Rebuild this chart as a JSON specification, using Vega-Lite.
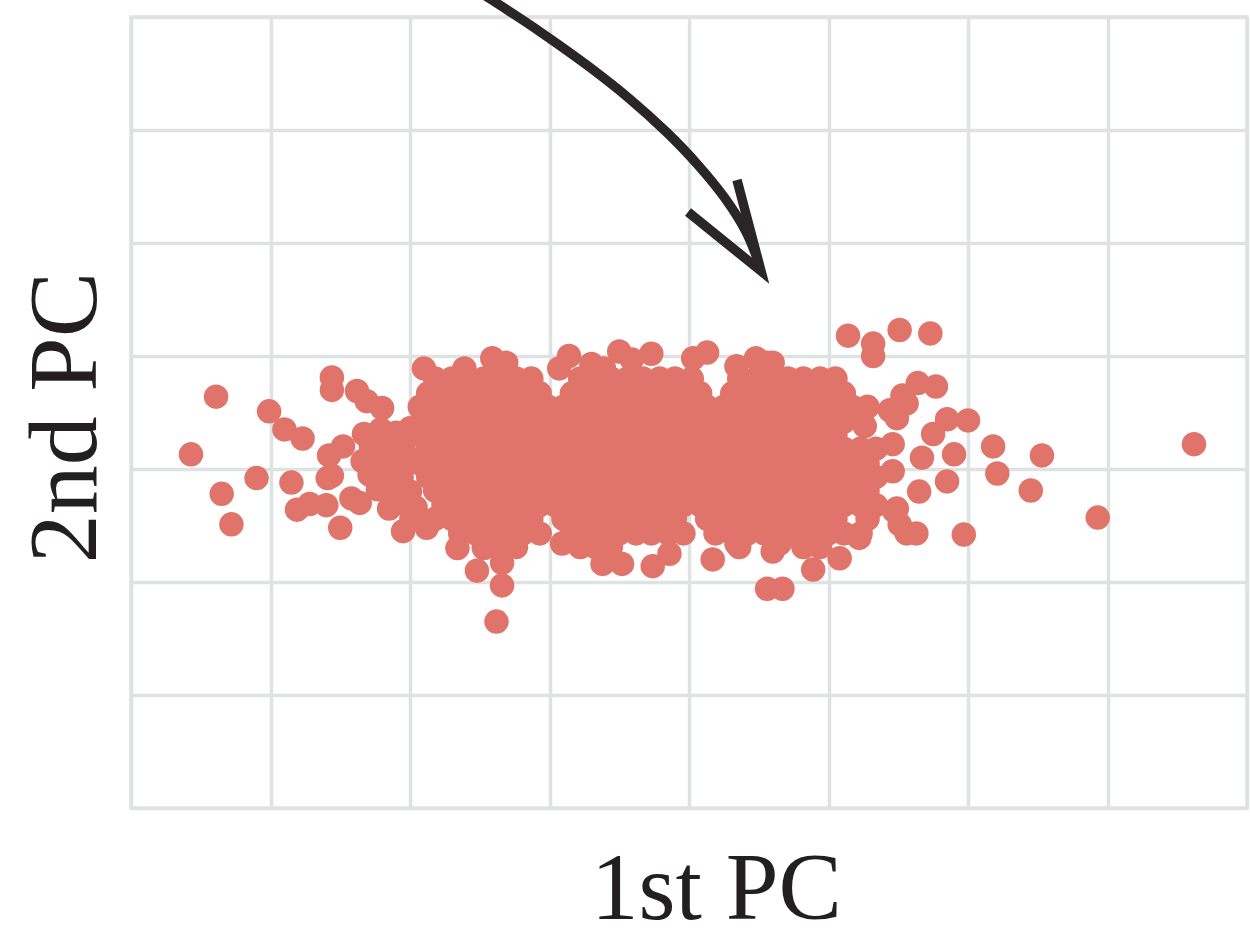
{
"$schema": "https://vega.github.io/schema/vega-lite/v6.json",
"width": 1116, "height": 791,
"autosize": {"type": "none"},
"padding": {"left": 131, "top": 17, "right": 3, "bottom": 123},
"background": "white",
"config": {
 "view": {"stroke": "#dfe2e3", "strokeWidth": 3.5},
 "axis": {"grid": true, "gridColor": "#dfe2e3", "gridWidth": 3.5, "labels": false, "ticks": false, "domain": false,
  "titleFont": "Liberation Serif", "titleFontSize": 95, "titleFontWeight": "normal", "titleColor": "#231f20"}
},
"datasets": {
"pts": [
{"x":-1.82,"y":0.8},{"x":-1.7,"y":0.8},{"x":-1.59,"y":0.8},{"x":-1.47,"y":0.8},{"x":-1.36,"y":0.8},{"x":-1.24,"y":0.8},{"x":-1.13,"y":0.8},{"x":-0.78,"y":0.8},{"x":-0.67,"y":0.8},{"x":-0.56,"y":0.8},{"x":-0.44,"y":0.8},{"x":-0.33,"y":0.8},{"x":-0.21,"y":0.8},{"x":-0.1,"y":0.8},{"x":0.02,"y":0.8},{"x":0.36,"y":0.8},{"x":0.48,"y":0.8},{"x":0.59,"y":0.8},{"x":0.71,"y":0.8},{"x":0.82,"y":0.8},{"x":0.94,"y":0.8},{"x":1.05,"y":0.8},
{"x":-1.87,"y":0.67},{"x":-1.76,"y":0.67},{"x":-1.64,"y":0.67},{"x":-1.53,"y":0.67},{"x":-1.41,"y":0.67},{"x":-1.3,"y":0.67},{"x":-1.19,"y":0.67},{"x":-1.07,"y":0.67},{"x":-0.84,"y":0.67},{"x":-0.73,"y":0.67},{"x":-0.61,"y":0.67},{"x":-0.5,"y":0.67},{"x":-0.38,"y":0.67},{"x":-0.27,"y":0.67},{"x":-0.15,"y":0.67},{"x":-0.04,"y":0.67},{"x":0.08,"y":0.67},{"x":0.31,"y":0.67},{"x":0.42,"y":0.67},{"x":0.54,"y":0.67},{"x":0.65,"y":0.67},{"x":0.77,"y":0.67},{"x":0.88,"y":0.67},{"x":1.0,"y":0.67},{"x":1.11,"y":0.67},
{"x":-1.93,"y":0.55},{"x":-1.82,"y":0.55},{"x":-1.7,"y":0.55},{"x":-1.59,"y":0.55},{"x":-1.47,"y":0.55},{"x":-1.36,"y":0.55},{"x":-1.24,"y":0.55},{"x":-1.13,"y":0.55},{"x":-1.01,"y":0.55},{"x":-0.9,"y":0.55},{"x":-0.78,"y":0.55},{"x":-0.67,"y":0.55},{"x":-0.56,"y":0.55},{"x":-0.44,"y":0.55},{"x":-0.33,"y":0.55},{"x":-0.21,"y":0.55},{"x":-0.1,"y":0.55},{"x":0.02,"y":0.55},{"x":0.13,"y":0.55},{"x":0.25,"y":0.55},{"x":0.36,"y":0.55},{"x":0.48,"y":0.55},{"x":0.59,"y":0.55},{"x":0.71,"y":0.55},{"x":0.82,"y":0.55},{"x":0.94,"y":0.55},{"x":1.05,"y":0.55},{"x":1.17,"y":0.55},{"x":1.28,"y":0.55},
{"x":-1.87,"y":0.42},{"x":-1.76,"y":0.42},{"x":-1.64,"y":0.42},{"x":-1.53,"y":0.42},{"x":-1.41,"y":0.42},{"x":-1.3,"y":0.42},{"x":-1.19,"y":0.42},{"x":-1.07,"y":0.42},{"x":-0.96,"y":0.42},{"x":-0.84,"y":0.42},{"x":-0.73,"y":0.42},{"x":-0.61,"y":0.42},{"x":-0.5,"y":0.42},{"x":-0.38,"y":0.42},{"x":-0.27,"y":0.42},{"x":-0.15,"y":0.42},{"x":-0.04,"y":0.42},{"x":0.08,"y":0.42},{"x":0.19,"y":0.42},{"x":0.31,"y":0.42},{"x":0.42,"y":0.42},{"x":0.54,"y":0.42},{"x":0.65,"y":0.42},{"x":0.77,"y":0.42},{"x":0.88,"y":0.42},{"x":1.0,"y":0.42},{"x":1.11,"y":0.42},
{"x":-1.93,"y":0.3},{"x":-1.82,"y":0.3},{"x":-1.7,"y":0.3},{"x":-1.59,"y":0.3},{"x":-1.47,"y":0.3},{"x":-1.36,"y":0.3},{"x":-1.24,"y":0.3},{"x":-1.13,"y":0.3},{"x":-1.01,"y":0.3},{"x":-0.9,"y":0.3},{"x":-0.78,"y":0.3},{"x":-0.67,"y":0.3},{"x":-0.56,"y":0.3},{"x":-0.44,"y":0.3},{"x":-0.33,"y":0.3},{"x":-0.21,"y":0.3},{"x":-0.1,"y":0.3},{"x":0.02,"y":0.3},{"x":0.13,"y":0.3},{"x":0.25,"y":0.3},{"x":0.36,"y":0.3},{"x":0.48,"y":0.3},{"x":0.59,"y":0.3},{"x":0.71,"y":0.3},{"x":0.82,"y":0.3},{"x":0.94,"y":0.3},{"x":1.05,"y":0.3},
{"x":-1.87,"y":0.18},{"x":-1.76,"y":0.18},{"x":-1.64,"y":0.18},{"x":-1.53,"y":0.18},{"x":-1.41,"y":0.18},{"x":-1.3,"y":0.18},{"x":-1.19,"y":0.18},{"x":-1.07,"y":0.18},{"x":-0.96,"y":0.18},{"x":-0.84,"y":0.18},{"x":-0.73,"y":0.18},{"x":-0.61,"y":0.18},{"x":-0.5,"y":0.18},{"x":-0.38,"y":0.18},{"x":-0.27,"y":0.18},{"x":-0.15,"y":0.18},{"x":-0.04,"y":0.18},{"x":0.08,"y":0.18},{"x":0.19,"y":0.18},{"x":0.31,"y":0.18},{"x":0.42,"y":0.18},{"x":0.54,"y":0.18},{"x":0.65,"y":0.18},{"x":0.77,"y":0.18},{"x":0.88,"y":0.18},{"x":1.0,"y":0.18},{"x":1.11,"y":0.18},{"x":1.23,"y":0.18},{"x":1.34,"y":0.18},
{"x":-1.93,"y":0.05},{"x":-1.82,"y":0.05},{"x":-1.7,"y":0.05},{"x":-1.59,"y":0.05},{"x":-1.47,"y":0.05},{"x":-1.36,"y":0.05},{"x":-1.24,"y":0.05},{"x":-1.13,"y":0.05},{"x":-1.01,"y":0.05},{"x":-0.9,"y":0.05},{"x":-0.78,"y":0.05},{"x":-0.67,"y":0.05},{"x":-0.56,"y":0.05},{"x":-0.44,"y":0.05},{"x":-0.33,"y":0.05},{"x":-0.21,"y":0.05},{"x":-0.1,"y":0.05},{"x":0.02,"y":0.05},{"x":0.13,"y":0.05},{"x":0.25,"y":0.05},{"x":0.36,"y":0.05},{"x":0.48,"y":0.05},{"x":0.59,"y":0.05},{"x":0.71,"y":0.05},{"x":0.82,"y":0.05},{"x":0.94,"y":0.05},{"x":1.05,"y":0.05},{"x":1.17,"y":0.05},{"x":1.28,"y":0.05},
{"x":-1.87,"y":-0.07},{"x":-1.76,"y":-0.07},{"x":-1.64,"y":-0.07},{"x":-1.53,"y":-0.07},{"x":-1.41,"y":-0.07},{"x":-1.3,"y":-0.07},{"x":-1.19,"y":-0.07},{"x":-1.07,"y":-0.07},{"x":-0.96,"y":-0.07},{"x":-0.84,"y":-0.07},{"x":-0.73,"y":-0.07},{"x":-0.61,"y":-0.07},{"x":-0.5,"y":-0.07},{"x":-0.38,"y":-0.07},{"x":-0.27,"y":-0.07},{"x":-0.15,"y":-0.07},{"x":-0.04,"y":-0.07},{"x":0.08,"y":-0.07},{"x":0.19,"y":-0.07},{"x":0.31,"y":-0.07},{"x":0.42,"y":-0.07},{"x":0.54,"y":-0.07},{"x":0.65,"y":-0.07},{"x":0.77,"y":-0.07},{"x":0.88,"y":-0.07},{"x":1.0,"y":-0.07},{"x":1.11,"y":-0.07},{"x":1.23,"y":-0.07},{"x":1.34,"y":-0.07},
{"x":-1.82,"y":-0.19},{"x":-1.7,"y":-0.19},{"x":-1.59,"y":-0.19},{"x":-1.47,"y":-0.19},{"x":-1.36,"y":-0.19},{"x":-1.24,"y":-0.19},{"x":-1.13,"y":-0.19},{"x":-1.01,"y":-0.19},{"x":-0.9,"y":-0.19},{"x":-0.78,"y":-0.19},{"x":-0.67,"y":-0.19},{"x":-0.56,"y":-0.19},{"x":-0.44,"y":-0.19},{"x":-0.33,"y":-0.19},{"x":-0.21,"y":-0.19},{"x":-0.1,"y":-0.19},{"x":0.02,"y":-0.19},{"x":0.13,"y":-0.19},{"x":0.25,"y":-0.19},{"x":0.36,"y":-0.19},{"x":0.48,"y":-0.19},{"x":0.59,"y":-0.19},{"x":0.71,"y":-0.19},{"x":0.82,"y":-0.19},{"x":0.94,"y":-0.19},{"x":1.05,"y":-0.19},{"x":1.17,"y":-0.19},{"x":1.28,"y":-0.19},
{"x":-1.76,"y":-0.32},{"x":-1.64,"y":-0.32},{"x":-1.53,"y":-0.32},{"x":-1.41,"y":-0.32},{"x":-1.3,"y":-0.32},{"x":-1.19,"y":-0.32},{"x":-1.07,"y":-0.32},{"x":-0.96,"y":-0.32},{"x":-0.84,"y":-0.32},{"x":-0.73,"y":-0.32},{"x":-0.61,"y":-0.32},{"x":-0.5,"y":-0.32},{"x":-0.38,"y":-0.32},{"x":-0.27,"y":-0.32},{"x":-0.15,"y":-0.32},{"x":-0.04,"y":-0.32},{"x":0.08,"y":-0.32},{"x":0.19,"y":-0.32},{"x":0.31,"y":-0.32},{"x":0.42,"y":-0.32},{"x":0.54,"y":-0.32},{"x":0.65,"y":-0.32},{"x":0.77,"y":-0.32},{"x":0.88,"y":-0.32},{"x":1.0,"y":-0.32},{"x":1.11,"y":-0.32},{"x":1.23,"y":-0.32},{"x":1.34,"y":-0.32},
{"x":-1.82,"y":-0.44},{"x":-1.7,"y":-0.44},{"x":-1.59,"y":-0.44},{"x":-1.47,"y":-0.44},{"x":-1.36,"y":-0.44},{"x":-1.24,"y":-0.44},{"x":-1.13,"y":-0.44},{"x":-0.9,"y":-0.44},{"x":-0.78,"y":-0.44},{"x":-0.67,"y":-0.44},{"x":-0.56,"y":-0.44},{"x":-0.44,"y":-0.44},{"x":-0.33,"y":-0.44},{"x":-0.21,"y":-0.44},{"x":-0.1,"y":-0.44},{"x":0.13,"y":-0.44},{"x":0.25,"y":-0.44},{"x":0.36,"y":-0.44},{"x":0.48,"y":-0.44},{"x":0.59,"y":-0.44},{"x":0.71,"y":-0.44},{"x":0.82,"y":-0.44},{"x":0.94,"y":-0.44},{"x":1.05,"y":-0.44},{"x":1.28,"y":-0.44},
{"x":-1.64,"y":-0.57},{"x":-1.53,"y":-0.57},{"x":-1.41,"y":-0.57},{"x":-1.3,"y":-0.57},{"x":-1.19,"y":-0.57},{"x":-1.07,"y":-0.57},{"x":-0.84,"y":-0.57},{"x":-0.73,"y":-0.57},{"x":-0.61,"y":-0.57},{"x":-0.5,"y":-0.57},{"x":-0.38,"y":-0.57},{"x":-0.27,"y":-0.57},{"x":-0.15,"y":-0.57},{"x":-0.04,"y":-0.57},{"x":0.19,"y":-0.57},{"x":0.31,"y":-0.57},{"x":0.42,"y":-0.57},{"x":0.54,"y":-0.57},{"x":0.65,"y":-0.57},{"x":0.77,"y":-0.57},{"x":0.88,"y":-0.57},{"x":1.0,"y":-0.57},{"x":1.11,"y":-0.57},{"x":1.23,"y":-0.57},
{"x":-1.47,"y":-0.69},{"x":-1.36,"y":-0.69},{"x":-1.24,"y":-0.69},{"x":-0.78,"y":-0.69},{"x":-0.67,"y":-0.69},{"x":-0.56,"y":-0.69},{"x":0.36,"y":-0.69},{"x":0.82,"y":-0.69},{"x":0.94,"y":-0.69},
{"x":-3.57,"y":0.13},{"x":-3.39,"y":0.64},{"x":-3.35,"y":-0.22},{"x":-3.28,"y":-0.49},{"x":-3.1,"y":-0.08},{"x":-3.01,"y":0.51},{"x":-2.9,"y":0.35},{"x":-2.77,"y":0.27},{"x":-2.85,"y":-0.12},{"x":-2.81,"y":-0.36},{"x":-2.72,"y":-0.31},{"x":-2.6,"y":-0.32},{"x":-2.56,"y":-0.06},{"x":-2.58,"y":0.12},{"x":-2.48,"y":0.2},{"x":-2.5,"y":-0.52},{"x":-2.56,"y":0.81},{"x":-2.56,"y":0.7},{"x":-2.38,"y":0.69},{"x":-2.31,"y":0.6},{"x":-2.2,"y":0.54},{"x":-2.42,"y":-0.26},{"x":-2.36,"y":-0.3},{"x":-2.59,"y":-0.08},{"x":-2.15,"y":-0.35},{"x":-2.05,"y":-0.55},
{"x":-2.33,"y":0.31},{"x":-2.21,"y":0.35},{"x":-2.1,"y":0.32},{"x":-2.0,"y":0.36},{"x":-2.28,"y":0.2},{"x":-2.16,"y":0.22},{"x":-2.05,"y":0.19},{"x":-2.34,"y":0.07},{"x":-2.22,"y":0.09},{"x":-2.1,"y":0.05},{"x":-1.99,"y":0.09},{"x":-2.29,"y":-0.05},{"x":-2.18,"y":-0.04},{"x":-2.06,"y":-0.07},{"x":-2.23,"y":-0.18},{"x":-2.12,"y":-0.16},{"x":-2.0,"y":-0.2},{"x":-2.08,"y":-0.3},{"x":-1.96,"y":-0.34},{"x":-1.99,"y":-0.44},{"x":-1.88,"y":-0.52},
{"x":-1.9,"y":0.89},{"x":-1.61,"y":0.89},{"x":-1.41,"y":0.98},{"x":-1.31,"y":0.94},
{"x":-0.93,"y":0.89},{"x":-0.86,"y":1.0},{"x":-0.7,"y":0.93},{"x":-0.61,"y":0.89},{"x":-0.5,"y":1.04},{"x":-0.41,"y":0.97},{"x":-0.27,"y":1.02},{"x":0.03,"y":0.98},{"x":0.13,"y":1.03},{"x":0.34,"y":0.91},{"x":0.48,"y":0.98},{"x":0.56,"y":0.94},{"x":0.6,"y":0.94},
{"x":1.14,"y":1.18},{"x":1.32,"y":1.11},{"x":1.32,"y":1.0},{"x":1.51,"y":1.23},{"x":1.73,"y":1.2},{"x":1.64,"y":0.76},{"x":1.77,"y":0.73},{"x":1.56,"y":0.58},{"x":1.53,"y":0.65},{"x":1.44,"y":0.52},{"x":1.49,"y":0.45},{"x":1.85,"y":0.44},{"x":2.0,"y":0.43},{"x":1.75,"y":0.31},{"x":1.67,"y":0.1},{"x":1.9,"y":0.13},{"x":2.18,"y":0.2},{"x":2.53,"y":0.12},{"x":3.62,"y":0.22},{"x":2.21,"y":-0.04},{"x":2.45,"y":-0.19},{"x":2.93,"y":-0.43},{"x":1.97,"y":-0.58},{"x":1.85,"y":-0.11},{"x":1.65,"y":-0.2},{"x":1.49,"y":-0.35},{"x":1.51,"y":-0.49},{"x":1.63,"y":-0.57},{"x":1.56,"y":-0.57},{"x":1.26,"y":0.38},{"x":1.46,"y":0.22},{"x":1.46,"y":-0.02},{"x":1.47,"y":-0.37},
{"x":-1.66,"y":-0.7},{"x":-1.47,"y":-0.7},{"x":-1.52,"y":-0.9},{"x":-1.34,"y":-0.83},{"x":-1.34,"y":-1.03},{"x":-1.38,"y":-1.35},{"x":-0.91,"y":-0.66},{"x":-0.76,"y":-0.64},{"x":-0.62,"y":-0.84},{"x":-0.48,"y":-0.84},{"x":-0.26,"y":-0.86},{"x":-0.14,"y":-0.75},{"x":0.17,"y":-0.8},{"x":0.34,"y":-0.66},{"x":0.65,"y":-0.66},{"x":0.6,"y":-0.73},{"x":0.56,"y":-1.06},{"x":0.67,"y":-1.06},{"x":0.89,"y":-0.89},{"x":1.08,"y":-0.79},{"x":1.22,"y":-0.61}
],
"arrow": [
{"o":0,"x":-1.527,"y":4.239},{"o":1,"x":-1.412,"y":4.15},{"o":2,"x":-1.054,"y":3.858},{"o":3,"x":-0.723,"y":3.566},{"o":4,"x":-0.424,"y":3.274},{"o":5,"x":-0.162,"y":2.982},{"o":6,"x":0.065,"y":2.69},{"o":7,"x":0.257,"y":2.398},{"o":8,"x":0.406,"y":2.106},{"o":9,"x":0.493,"y":1.85}
],
"head": [
{"o":0,"x":0.344,"y":2.558},{"o":1,"x":0.516,"y":1.752},{"o":2,"x":-0.007,"y":2.274}
]
},
"layer": [
{"data": {"name": "pts"},
 "mark": {"type": "circle", "size": 600, "color": "#e0746a", "opacity": 1},
 "encoding": {
  "x": {"field": "x", "type": "quantitative", "scale": {"domain": [-4, 4], "nice": false, "zero": false},
   "axis": {"values": [-4,-3,-2,-1,0,1,2,3,4], "title": "1st PC", "titleX": 585, "titleY": 110, "titleBaseline": "alphabetic", "titleAlign": "center", "titleAnchor": null}},
  "y": {"field": "y", "type": "quantitative", "scale": {"domain": [-3, 4], "nice": false, "zero": false},
   "axis": {"values": [-3,-2,-1,0,1,2,3,4], "title": "2nd PC", "titleX": -36, "titleY": 400, "titleBaseline": "alphabetic", "titleAlign": "center", "titleAngle": -90, "titleAnchor": null, "titleFontSize": 98}}
 }},
{"data": {"name": "arrow"},
 "mark": {"type": "line", "color": "#2a2526", "strokeWidth": 9.5, "interpolate": "catmull-rom", "clip": false, "strokeCap": "butt"},
 "encoding": {
  "x": {"field": "x", "type": "quantitative", "scale": {"domain": [-4, 4], "nice": false, "zero": false}},
  "y": {"field": "y", "type": "quantitative", "scale": {"domain": [-3, 4], "nice": false, "zero": false}},
  "order": {"field": "o"}
 }},
{"data": {"name": "head"},
 "mark": {"type": "line", "color": "#2a2526", "strokeWidth": 9.5, "strokeJoin": "miter", "strokeMiterLimit": 20, "clip": false, "strokeCap": "butt"},
 "encoding": {
  "x": {"field": "x", "type": "quantitative", "scale": {"domain": [-4, 4], "nice": false, "zero": false}},
  "y": {"field": "y", "type": "quantitative", "scale": {"domain": [-3, 4], "nice": false, "zero": false}},
  "order": {"field": "o"}
 }}
]
}
